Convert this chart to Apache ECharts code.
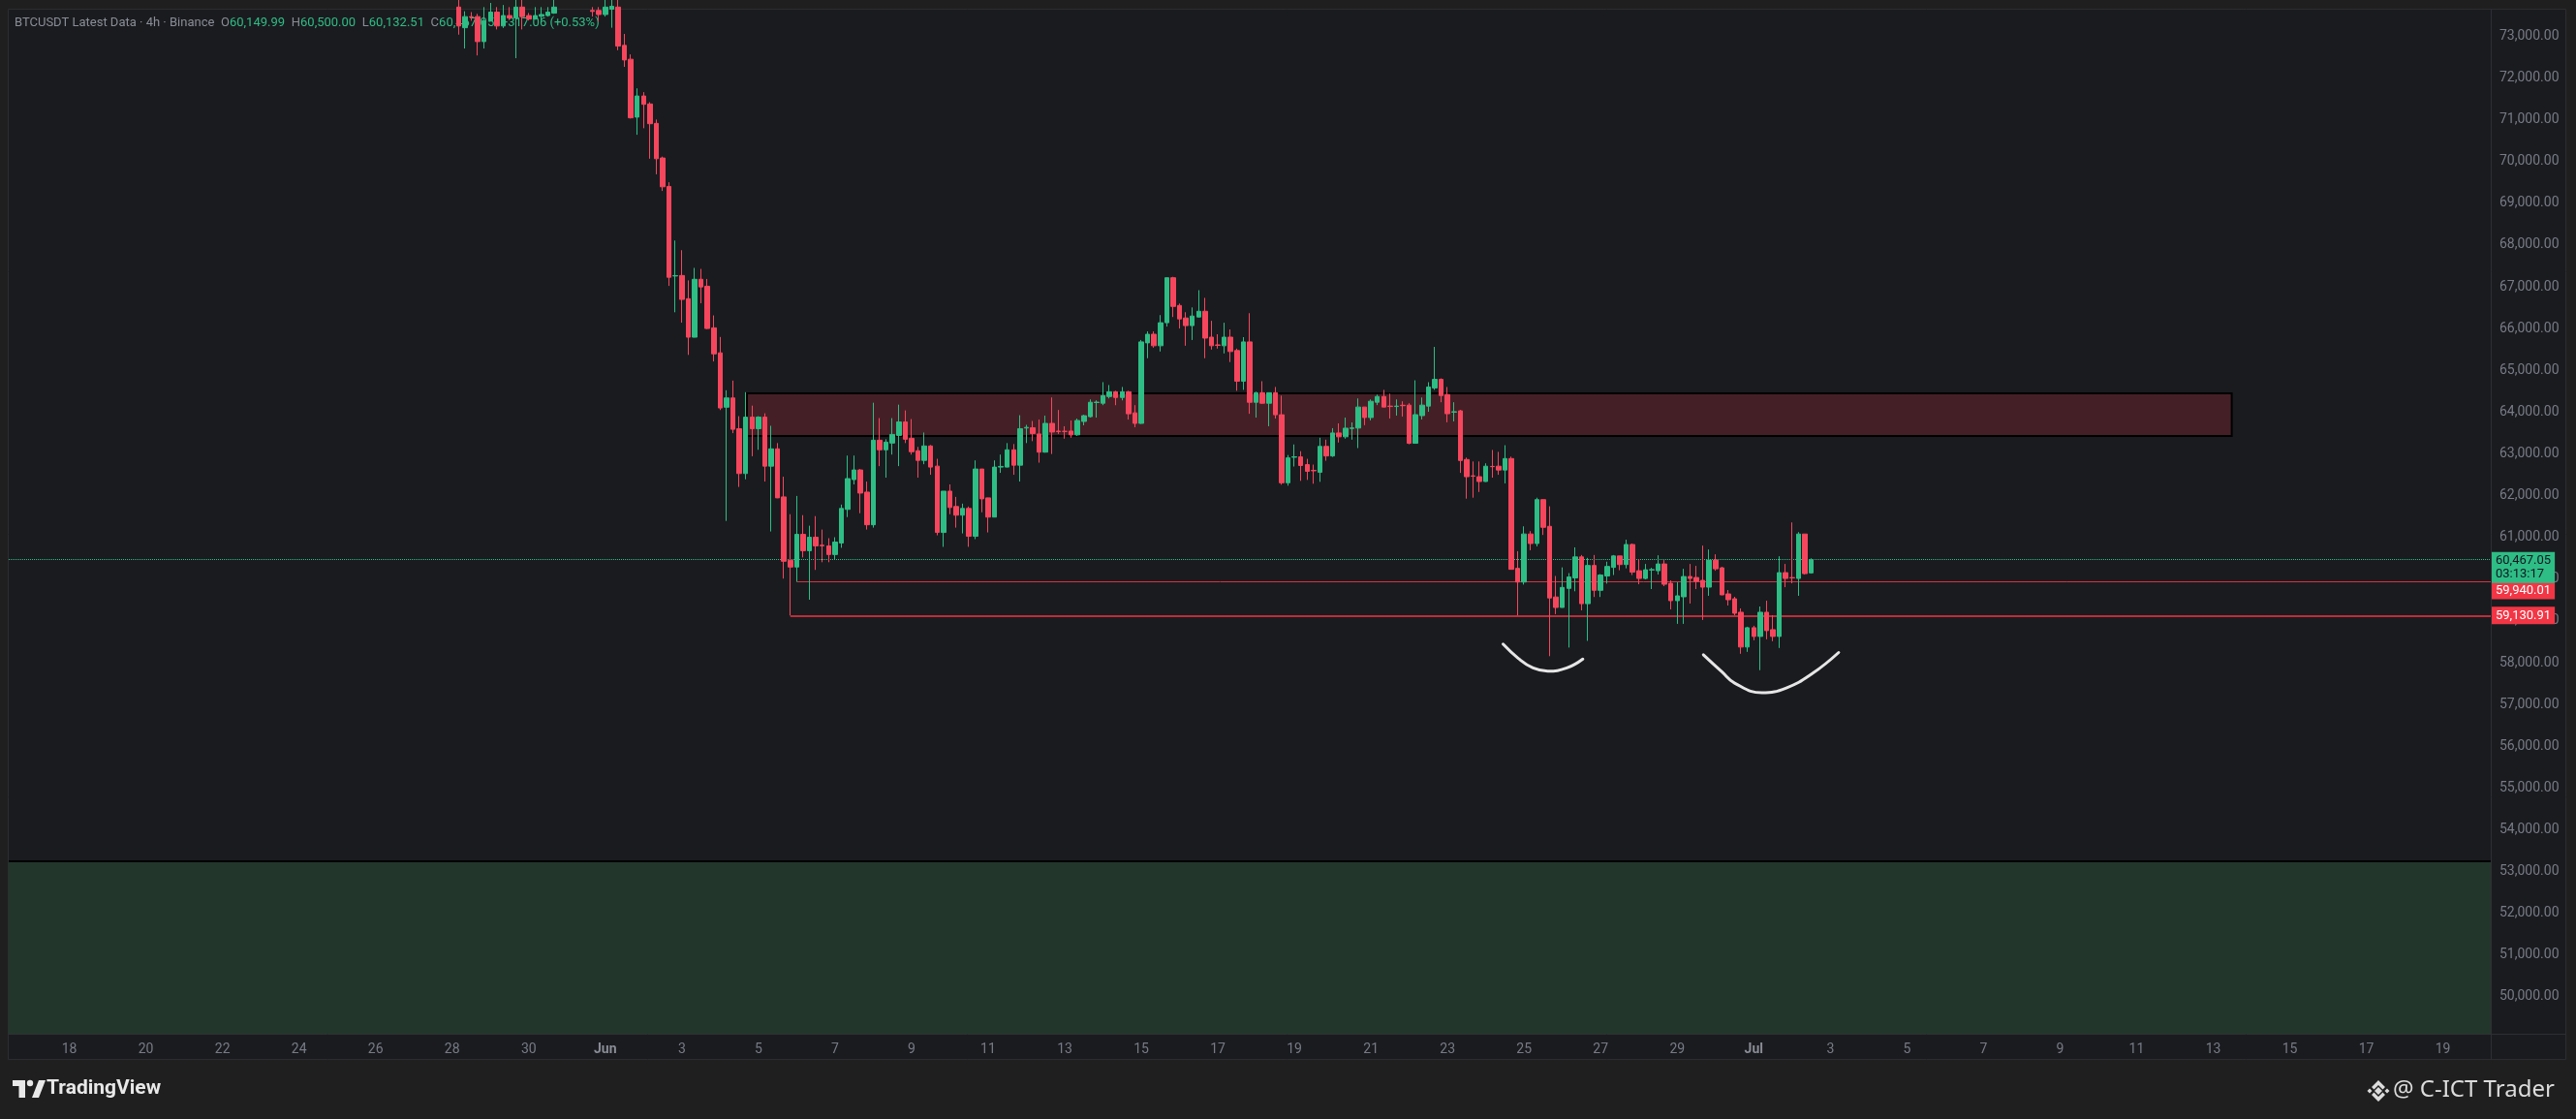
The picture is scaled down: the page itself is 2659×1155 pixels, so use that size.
<!DOCTYPE html>
<html>
<head>
<meta charset="utf-8">
<script src="https://cdn.jsdelivr.net/npm/echarts@6/dist/echarts.min.js"></script>
<style>
html,body{margin:0;padding:0;background:#1f1f1f;}
#c{width:2659px;height:1155px;}
</style>
</head>
<body>
<div id="c"></div>
<script>
// ---------------- data ----------------
const slotStart = '2024-05-16 12:00';   // first 4h slot on the time axis
const slotCount = 389;                   // number of 4h slots shown (incl. future space)
const labelAnchorDay = '2024-05-18 00:00'; // day labels every 2 days from here
const monthNames = ['Jan','Feb','Mar','Apr','May','Jun','Jul','Aug','Sep','Oct','Nov','Dec'];

const candleFirst = '2024-05-28 04:00';
// [open, high, low, close], one row per 4h candle
const ohlc = [
[73700,73900,73040,73248],[73206,73600,72708,73472],[73470,73580,73372,73462],[73472,73538,72542,72874],
[72874,73700,72708,73372],[73372,73800,73360,73580],[73580,73700,73165,73248],[73248,73750,73200,73497],
[73497,73700,73400,73439],[73439,73900,72476,73700],[73700,73900,73165,73472],[73497,73560,73380,73414],
[73414,73700,73400,73497],[73480,73700,73372,73522],[73497,73700,73472,73580],[73555,73900,73540,73700],
[73720,74150,73690,74020],[74020,74300,73850,73950],[73950,74200,73760,74080],[74080,74250,73800,73880],
[73880,74050,73700,73760],[73620,73700,73472,73596],[73620,73700,73356,73522],[73522,73900,73472,73700],
[73650,73900,73206,73720],[73700,73900,72667,72766],[72783,73057,72269,72434],[72451,72567,71032,71048],
[71065,71754,70642,71571],[71571,71663,70799,71372],[71380,71422,70069,70907],[70915,71007,69696,70069],
[70086,70119,69297,69397],[69405,69505,67023,67230],[67260,68110,66392,67270],[67272,67878,66143,66699],
[66716,67156,65371,65795],[65795,67454,65790,67181],[67181,67430,66608,66999],[67015,67189,65990,66003],
[66019,66317,65214,65396],[65420,65800,64050,64100],[64118,64524,61395,64340],[64340,64755,63497,63589],
[63604,63903,62208,62530],[62530,64478,62392,63880],[63880,64156,62944,63604],[63604,63903,63098,63880],
[63880,63972,62338,62707],[62707,63673,61142,63121],[63121,63259,61940,61947],[61970,62454,60014,60429],
[60452,61556,59130.91,60291],[60291,61993,59940.01,61073],[61073,61533,60521,60682],[60682,61280,59508,61004],
[61004,61510,60222,60797],[60812,61188,60406,60800],[60797,60981,60406,60590],[60590,61004,60475,60889],
[60866,61786,60751,61694],[61671,62960,61487,62408],[62385,62960,62269,62615],[62615,62638,61579,62062],
[62085,62338,61188,61303],[61303,64225,61234,63328],[63328,63857,62707,63098],[63098,63351,62431,63282],
[63259,63857,62983,63466],[63443,64179,62707,63765],[63765,64041,63259,63351],[63374,63834,62983,63052],
[63075,63167,62431,62845],[62845,63512,62753,63190],[63190,63213,62500,62684],[62707,62883,61050,61119],
[61119,62108,60774,62108],[62108,62269,61556,61717],[61740,61970,61234,61533],[61533,61809,61096,61694],
[61694,61740,60774,61027],[61027,62845,60958,62638],[62638,62640,61602,61924],[61947,61950,61119,61487],
[61487,62845,61480,62684],[62684,62983,62546,62700],[62684,63259,62680,63098],[63098,63236,62500,62730],
[62730,63926,62338,63604],[63620,63696,63259,63635],[63627,63788,63305,63489],[63478,63823,62790,63042],
[63042,63915,63030,63731],[63731,64352,62997,63524],[63545,64052,63478,63535],[63540,63662,63364,63538],
[63547,63800,63387,63456],[63456,63846,63432,63800],[63777,63937,63685,63915],[63892,64305,63869,64236],
[64230,64282,63869,64240],[64213,64718,64167,64396],[64374,64649,64328,64488],[64488,64511,64167,64351],
[64351,64603,64282,64488],[64488,64511,63823,63960],[63983,64167,63639,63731],[63731,65728,63720,65682],
[65659,65934,65291,65865],[65865,65934,65544,65590],[65590,66324,65452,66141],[66141,67219,66049,67219],
[67219,67240,66278,66531],[66554,66600,66003,66232],[66255,66393,65590,66072],[66072,66508,65728,66301],
[66278,66921,66270,66416],[66416,66737,65291,65773],[65796,66187,65498,65590],[65610,65865,65521,65600],
[65590,66141,65406,65796],[65796,65980,65200,65452],[65475,65521,64511,64741],[64741,65796,64534,65682],
[65682,66370,63960,64236],[64236,64488,63869,64465],[64465,64741,64200,64213],[64213,64470,63662,64465],
[64465,64603,63846,63937],[63937,64396,62262,62308],[62308,62973,62239,62905],[62920,63226,62698,62930],
[62928,63065,62354,62721],[62744,62882,62377,62583],[62605,62744,62285,62595],[62560,63387,62331,63180],
[63180,63341,62836,62951],[62951,63616,62928,63501],[63501,63731,63272,63410],[63410,63869,63364,63616],
[63610,63754,63341,63620],[63619,64328,63139,64122],[64122,64122,63688,63871],[63871,64305,63802,64260],
[64237,64420,64168,64374],[64374,64534,64120,64122],[64145,64442,63848,64135],[64135,64305,63917,64145],
[64165,64260,63894,64155],[64168,64214,63231,63254],[63254,64762,63250,63939],[63917,64351,63825,64168],
[64145,64717,64008,64602],[64580,65563,64534,64785],[64785,64808,64237,64397],[64420,64602,63757,63962],
[64000,64237,63779,64010],[64031,64054,62545,62842],[62865,62911,61928,62454],[62475,62819,61951,62465],
[62454,62819,62088,62339],[62339,62774,62330,62705],[62700,63094,62431,62695],[62705,63048,62499,62614],
[62614,63208,62294,62888],[62888,62934,60230,60236],[60259,60671,59131,59931],[59931,61265,59870,61082],
[61082,61151,60693,60854],[60854,61951,60785,61905],[61905,61910,61059,61242],[61265,61745,58156,59550],
[59573,60076,59162,59322],[59322,60282,59320,59802],[59779,60145,58362,60053],[60030,60762,59710,60533],
[60533,60579,59253,59413],[59413,60510,58522,60328],[60328,60579,59573,59733],[59733,60122,59573,60099],
[60076,60419,59893,60305],[60282,60579,60099,60556],[60556,60556,60213,60350],[60350,60945,60259,60831],
[60831,60854,60099,60168],[60202,60480,59878,60017],[60017,60364,59994,60225],[60220,60272,59763,60230],
[60202,60572,60110,60364],[60364,60457,59832,59878],[59901,59971,59277,59485],[59485,59925,58930,59601],
[59578,60248,58930,60063],[60063,60364,59416,60017],[60040,60318,59763,59948],[59971,60804,59023,59809],
[59809,60711,59601,60457],[60457,60595,60202,60248],[60272,60295,59620,59624],[59647,59740,59369,59508],
[59531,59578,59138,59184],[59208,59300,58213,58375],[58375,58861,58259,58838],[58838,58884,58537,58629],
[58629,59346,57820,59208],[59208,59485,58560,58768],[58791,59138,58514,58629],[58629,60549,58352,60156],
[60156,60364,59809,60017],[60038,61359,59901,60030],[60017,61127,59601,61081],[61081,61081,60110,60133],
[60149.99,60500.00,60132.51,60467.05]
];

const yMin = 49114, yMax = 73661;
const yTicks = [50000,51000,52000,53000,54000,55000,56000,57000,58000,59000,60000,61000,
                62000,63000,64000,65000,66000,67000,68000,69000,70000,71000,72000,73000];

const lastPrice = 60467.05;
const lastCountdown = '03:13:17';
const supportUpper = {price: 59940.01, from: '2024-06-06 00:00'};
const supportLower = {price: 59130.91, from: '2024-06-05 20:00'};
const supplyZone = {from: '2024-06-04 16:48', to: '2024-07-13 11:36', low: 63430, high: 64450};
const demandTop = 53240;

const arcLeft = [['2024-06-24 10:48',58445],['2024-06-24 20:24',58103],['2024-06-25 05:36',57874],
                 ['2024-06-25 14:48',57798],['2024-06-26 02:48',57874],['2024-06-26 12:48',58087]];
const arcRight = [['2024-06-29 16:24',58190],['2024-06-30 04:00',57781],['2024-06-30 12:00',57511],
                  ['2024-07-01 05:12',57280],['2024-07-01 20:24',57396],['2024-07-02 12:48',57743],
                  ['2024-07-03 05:12',58244]];

const headerInfo = {name: 'BTCUSDT Latest Data · 4h · Binance', o: '60,149.99', h: '60,500.00',
                    l: '60,132.51', c: '60,467.05', chg: '+317.06 (+0.53%)'};

// ---------------- helpers ----------------
const H4 = 4 * 3600 * 1000;
const toMs = t => Date.parse(t.replace(' ', 'T') + ':00Z');
const pad = n => String(n).padStart(2, '0');
const fmtTime = ms => { const d = new Date(ms);
  return d.getUTCFullYear() + '-' + pad(d.getUTCMonth() + 1) + '-' + pad(d.getUTCDate()) + ' ' +
         pad(d.getUTCHours()) + ':' + pad(d.getUTCMinutes()); };
const startMs = toMs(slotStart);
const toSlot = t => (toMs(t) - startMs) / H4;
const fmtPrice = v => v.toLocaleString('en-US', {minimumFractionDigits: 2, maximumFractionDigits: 2});

const categories = [];
for (let k = 0; k < slotCount; k++) categories.push(fmtTime(startMs + k * H4));
const firstIdx = Math.round(toSlot(candleFirst));
const candleData = ohlc.map((r, i) => [firstIdx + i, r[0], r[3], r[2], r[1]]);
const anchorMs = toMs(labelAnchorDay);
const isLabelSlot = idx => {
  const ms = startMs + idx * H4;
  const d = (ms - anchorMs) / 86400000;
  return Number.isInteger(d) && d % 2 === 0;
};

const UP = '#2ebd85', DOWN = '#f6465d', FONT = 'Roboto';
const N = slotCount;

const axisLabelStyle = (bg, fg) => ({
  show: true, position: 'end', distance: 1, backgroundColor: bg, color: fg,
  padding: [2, 4, 2, 4], fontSize: 13, fontFamily: FONT, lineHeight: 14
});

// ---------------- chart ----------------
const chart = echarts.init(document.getElementById('c'), null, {renderer: 'canvas', width: 2659, height: 1155});

const option = {
  backgroundColor: '#1f1f1f',
  animation: false,
  grid: {left: 9, top: 9, right: 88, bottom: 88, show: false},
  xAxis: [
    {
      type: 'category', data: categories, boundaryGap: true,
      axisLine: {show: false}, axisTick: {show: false}, splitLine: {show: false},
      axisLabel: {
        interval: (idx) => isLabelSlot(idx),
        color: '#787b86', fontSize: 14, fontFamily: FONT, margin: 9,
        formatter: (val) => {
          const d = new Date(toMs(val));
          return d.getUTCDate() === 1 ? '{m|' + monthNames[d.getUTCMonth()] + '}' : String(d.getUTCDate());
        },
        rich: {m: {color: '#8a8d96', fontSize: 14, fontFamily: FONT, fontWeight: 'bold'}}
      }
    },
    {type: 'value', min: -0.5, max: N - 0.5, show: false}
  ],
  yAxis: {
    type: 'value', position: 'right', min: yMin, max: yMax, scale: true,
    axisLine: {show: false}, axisTick: {show: false}, splitLine: {show: false},
    axisLabel: {
      customValues: yTicks, color: '#787b86', fontSize: 14, fontFamily: FONT, margin: 9, align: 'left',
      formatter: v => fmtPrice(v)
    }
  },
  series: [
    {
      type: 'candlestick', name: 'BTCUSDT', data: candleData, encode: {x: 0, y: [1, 2, 3, 4]},
      barWidth: 5, clip: true, z: 5,
      itemStyle: {color: UP, color0: DOWN, borderColor: UP, borderColor0: DOWN, borderWidth: 1}
    },
    {
      type: 'line', name: 'arcLeft', xAxisIndex: 1, z: 3,
      data: arcLeft.map(([t, p]) => [toSlot(t), p]),
      smooth: 0.45, showSymbol: false, silent: true,
      lineStyle: {color: '#e6e6e6', width: 3, cap: 'round'},
      markArea: {
        silent: true,
        data: [
          [{coord: [toSlot(supplyZone.from), supplyZone.high],
            itemStyle: {color: 'rgba(242,54,69,0.2)', borderColor: '#000000', borderWidth: 2}},
           {coord: [toSlot(supplyZone.to), supplyZone.low]}],
          [{coord: [-0.5, demandTop], itemStyle: {color: '#23362b', borderWidth: 0}},
           {coord: [N - 0.5, yMin]}]
        ]
      },
      markLine: {
        silent: true, symbol: ['none', 'none'], animation: false,
        data: [
          [{coord: [-0.5, demandTop], lineStyle: {color: '#000000', width: 2, type: 'solid'}, label: {show: false}},
           {coord: [N - 0.5, demandTop]}],
          [{coord: [toSlot(supportLower.from), supportLower.price], lineStyle: {color: '#f23645', width: 1.5, type: 'solid'},
            label: Object.assign(axisLabelStyle('#f23645', '#ffffff'), {formatter: fmtPrice(supportLower.price)})},
           {coord: [N - 0.5, supportLower.price]}],
          [{coord: [toSlot(supportUpper.from), supportUpper.price], lineStyle: {color: '#d8323f', width: 1, type: 'solid'},
            label: Object.assign(axisLabelStyle('#f23645', '#ffffff'), {formatter: fmtPrice(supportUpper.price), offset: [0, 9]})},
           {coord: [N - 0.5, supportUpper.price]}],
          [{coord: [-0.5, lastPrice], lineStyle: {color: UP, width: 1, type: 'dotted'},
            label: Object.assign(axisLabelStyle(UP, '#131722'), {formatter: fmtPrice(lastPrice) + '\n' + lastCountdown, offset: [0, 8]})},
           {coord: [N - 0.5, lastPrice]}]
        ]
      }
    },
    {
      type: 'line', name: 'arcRight', xAxisIndex: 1, z: 3,
      data: arcRight.map(([t, p]) => [toSlot(t), p]),
      smooth: 0.45, showSymbol: false, silent: true,
      lineStyle: {color: '#e6e6e6', width: 3, cap: 'round'}
    }
  ],
  graphic: {
    elements: [
      {type: 'rect', z: -10, silent: true,
       shape: {x: 8.5, y: 9.5, width: 2640, height: 1084},
       style: {fill: '#1a1b1f', stroke: '#2c2d31', lineWidth: 1}},
      {type: 'line', z: 100, silent: true, shape: {x1: 2571.5, y1: 9.5, x2: 2571.5, y2: 1093.5},
       style: {stroke: '#2e2f34', lineWidth: 1}},
      {type: 'line', z: 100, silent: true, shape: {x1: 8.5, y1: 1067.5, x2: 2648.5, y2: 1067.5},
       style: {stroke: '#2e2f34', lineWidth: 1}},
      {type: 'text', z: 1, silent: true, x: 15, y: 24,
       style: {
         text: '{g|' + headerInfo.name + '}  {g|O}{v|' + headerInfo.o + '}  {g|H}{v|' + headerInfo.h +
               '}  {g|L}{v|' + headerInfo.l + '}  {g|C}{v|' + headerInfo.c + '}  {v|' + headerInfo.chg + '}',
         verticalAlign: 'middle', align: 'left',
         rich: {g: {fill: '#8a8d96', fontSize: 13, fontFamily: FONT},
                v: {fill: UP, fontSize: 13, fontFamily: FONT}}
       }},
      // TradingView mark
      {type: 'rect', silent: true, shape: {x: 13, y: 1115, width: 13, height: 6}, style: {fill: '#e8e8e8'}},
      {type: 'rect', silent: true, shape: {x: 19.5, y: 1115, width: 6.5, height: 18}, style: {fill: '#e8e8e8'}},
      {type: 'circle', silent: true, shape: {cx: 31, cy: 1118, r: 3.2}, style: {fill: '#e8e8e8'}},
      {type: 'polygon', silent: true, shape: {points: [[33, 1133], [40, 1115], [47, 1115], [40, 1133]]}, style: {fill: '#e8e8e8'}},
      {type: 'text', silent: true, x: 48, y: 1124,
       style: {text: 'TradingView', fill: '#e8e8e8', fontSize: 21, fontWeight: 'bold', fontFamily: FONT, verticalAlign: 'middle'}},
      // Binance-like mark + author
      {type: 'polygon', silent: true, shape: {points: [[2455, 1122], [2459, 1126], [2455, 1130], [2451, 1126]]}, style: {fill: '#dcdcdc'}},
      {type: 'polygon', silent: true, shape: {points: [[2446, 1123.5], [2448.5, 1126], [2446, 1128.5], [2443.5, 1126]]}, style: {fill: '#dcdcdc'}},
      {type: 'polygon', silent: true, shape: {points: [[2464, 1123.5], [2466.5, 1126], [2464, 1128.5], [2461.5, 1126]]}, style: {fill: '#dcdcdc'}},
      {type: 'polygon', silent: true, shape: {points: [[2448, 1122], [2455, 1115], [2462, 1122], [2459.5, 1124.5], [2455, 1120], [2450.5, 1124.5]]}, style: {fill: '#dcdcdc'}},
      {type: 'polygon', silent: true, shape: {points: [[2448, 1130], [2455, 1137], [2462, 1130], [2459.5, 1127.5], [2455, 1132], [2450.5, 1127.5]]}, style: {fill: '#dcdcdc'}},
      {type: 'text', silent: true, x: 2470, y: 1125,
       style: {text: '@ C-ICT Trader', fill: '#dcdcdc', fontSize: 24, fontFamily: 'Noto Sans', verticalAlign: 'middle'}}
    ]
  }
};
chart.setOption(option);
</script>
</body>
</html>
